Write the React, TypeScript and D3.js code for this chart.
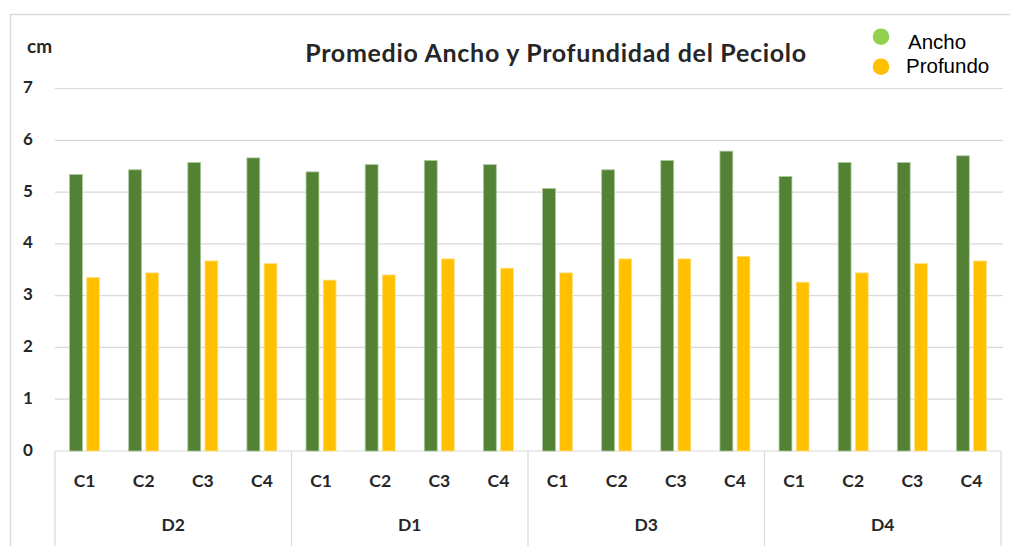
import React from "react";
import * as d3 from "d3";

const groups = ["D2", "D1", "D3", "D4"];
const subCats = ["C1", "C2", "C3", "C4"];
const series = ["Ancho", "Profundo"];
const anchoValues = [5.34, 5.43, 5.57, 5.66, 5.39, 5.53, 5.61, 5.53, 5.07, 5.43, 5.61, 5.79, 5.3, 5.57, 5.57, 5.7];
const profundoValues = [3.35, 3.44, 3.67, 3.62, 3.3, 3.4, 3.71, 3.53, 3.44, 3.71, 3.71, 3.76, 3.26, 3.44, 3.62, 3.67];
const yTicks = [0, 1, 2, 3, 4, 5, 6, 7];

const W = 1010;
const H = 546;
const plotLeft = 55;
const plotRight = 1001;
const gridRight = 1003;
const yTop = 88.5;
const yBottom = 451;

const barColors = ["#548235", "#ffc000"];
const legendColors = ["#92d050", "#ffc000"];
const gray = "#d9d9d9";
const font = "Lato, 'Noto Sans', sans-serif";

export default function App() {
  const cats = groups.flatMap((g) => subCats.map((c) => `${g}-${c}`));
  const x = d3.scaleBand().domain(cats).range([plotLeft, plotRight]).padding(0);
  const xg = d3.scaleBand().domain(groups).range([plotLeft, plotRight]).padding(0);
  const x1 = d3.scaleBand().domain(series).range([-15, 15]).paddingInner(0.25);
  const y = d3.scaleLinear().domain([0, 7]).range([yBottom, yTop]);
  const values = [anchoValues, profundoValues];

  return (
    <svg width={W} height={H} style={{ position: "absolute", left: 0, top: 0, background: "#fff" }}>
      {/* outer border */}
      <line x1={10.5} x2={10.5} y1={14} y2={H} stroke={gray} strokeWidth={1.5} />
      <line x1={10} x2={W} y1={14.5} y2={14.5} stroke={gray} strokeWidth={1.5} />
      {/* gridlines */}
      {yTicks.map((t) => (
        <line key={t} x1={plotLeft} x2={t === 0 ? plotRight : gridRight} y1={y(t)} y2={y(t)} stroke={gray} strokeWidth={1.2} />
      ))}
      {/* y labels */}
      {yTicks.map((t) => (
        <text key={t} x={28} y={y(t) - 2} textAnchor="middle" dominantBaseline="central" fontFamily={font} fontWeight={700} fontSize={17} fill="#262626">
          {t}
        </text>
      ))}
      <text x={27} y={53} fontFamily={font} fontWeight={700} fontSize={19} fill="#262626">cm</text>
      {/* bars */}
      {cats.map((c, i) =>
        series.map((s, k) => {
          const cx = (x(c) as number) + x.bandwidth() / 2;
          const v = values[k][i];
          return (
            <rect
              key={c + s}
              x={cx + (x1(s) as number)}
              y={y(v)}
              width={x1.bandwidth()}
              height={y(0) - y(v)}
              fill={barColors[k]}
              stroke={k === 0 ? "#a9c89a" : "#ffe08a"}
              strokeWidth={0.8}
            />
          );
        })
      )}
      {/* x axis category box */}
      {groups.map((g) => (
        <line key={g} x1={xg(g) as number} x2={xg(g) as number} y1={yBottom} y2={H} stroke={gray} strokeWidth={1.2} />
      ))}
      <line x1={plotRight} x2={plotRight} y1={yBottom} y2={H} stroke={gray} strokeWidth={1.2} />
      {cats.map((c, i) => (
        <text key={c} x={(x(c) as number) + x.bandwidth() / 2} y={480} textAnchor="middle" dominantBaseline="central" fontFamily={font} fontWeight={700} fontSize={17.5} fill="#262626">
          {subCats[i % 4]}
        </text>
      ))}
      {groups.map((g) => (
        <text key={g} x={(xg(g) as number) + xg.bandwidth() / 2} y={524} textAnchor="middle" dominantBaseline="central" fontFamily={font} fontWeight={700} fontSize={17.5} fill="#262626">
          {g}
        </text>
      ))}
      {/* title */}
      <text x={556} y={52} textAnchor="middle" dominantBaseline="central" fontFamily={font} fontWeight={700} fontSize={25} letterSpacing={0.7} fill="#262626">
        Promedio Ancho y Profundidad del Peciolo
      </text>
      {/* legend */}
      {series.map((s, k) => (
        <g key={s}>
          <circle cx={881} cy={36.7 + k * 30} r={8.3} fill={legendColors[k]} />
          <text x={908 - k * 2} y={49 + k * 24} fontFamily="'Liberation Sans', Arial, sans-serif" fontSize={20.5} fill="#000">
            {s}
          </text>
        </g>
      ))}
    </svg>
  );
}
